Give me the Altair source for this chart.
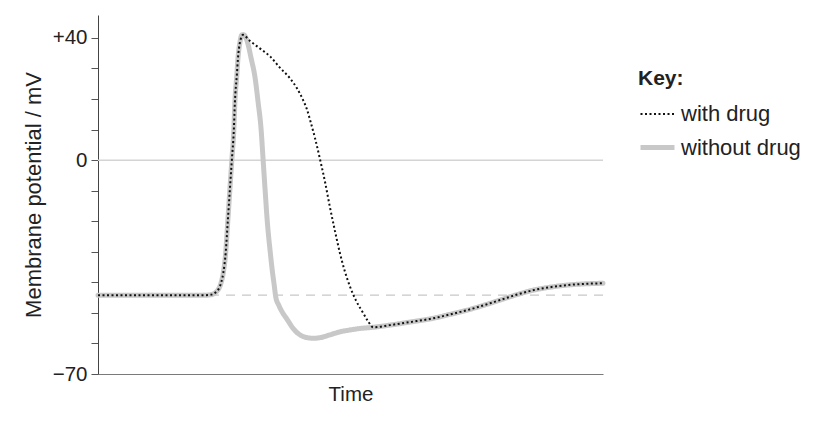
import altair as alt
import pandas as pd

# ---- data ----
# time in arbitrary units (0..100), membrane potential in mV
t_without = [0, 21.2, 22.2, 23.6, 24.4, 24.8, 25.3, 25.7, 26.1, 26.5, 26.9, 27.1, 27.5, 27.7,
             28.1, 28.5, 28.9, 29.3, 29.7, 30.3, 31.1, 31.7, 32.3, 32.7, 33.1, 33.5, 34.1,
             34.5, 34.9, 35.2, 35.8, 36.4, 37.4, 38.6, 40.0, 41.4, 42.6, 44.0, 45.9, 47.9,
             49.9, 51.9, 54.5, 57.8, 61.8, 66.3, 69.7, 73.1, 76.6, 79.6, 83.0, 86.1, 89.5,
             92.9, 96.4, 100]
v_without = [-44.2, -44.2, -44.1, -42.8, -40, -37, -30, -20, -10, 0, 10, 18.7, 28, 33,
             38.5, 41, 41, 40, 38, 33.5, 27, 19, 10, 0, -10, -19.6, -30,
             -36, -41, -44.8, -47.5, -49.5, -52, -55, -57.2, -58.1, -58.3, -58.1, -57.2, -56.2,
             -55.6, -55.1, -54.7, -54, -53, -51.8, -50.5, -49.1, -47.4, -45.8, -44, -42.6, -41.6,
             -40.9, -40.5, -40.3]

t_with = [0, 21.2, 22.2, 23.6, 24.4, 24.8, 25.3, 25.7, 26.1, 26.5, 26.9, 27.1, 27.5, 27.7,
          28.1, 28.7, 30.1, 32.1, 34.1, 36.0, 38.0, 39.4, 40.6, 41.4, 42.0, 43.0, 44.0,
          45.0, 45.9, 46.9, 47.9, 48.9, 49.9, 51.1, 52.5, 53.5, 54.5, 57.8, 61.8, 66.3,
          69.7, 73.1, 76.6, 79.6, 83.0, 86.1, 89.5, 92.9, 96.4, 100]
v_with = [-44.2, -44.2, -44.1, -42.8, -40, -37, -30, -20, -10, 0, 10, 18.7, 28, 33,
          38.5, 41, 39, 36.5, 33.9, 30.3, 26.8, 23.5, 19.7, 16.5, 13.1, 7, 0,
          -7.5, -15.2, -23, -30.4, -36.5, -41.4, -46, -50, -52.8, -54.7, -54, -53, -51.8,
          -50.5, -49.1, -47.4, -45.8, -44, -42.6, -41.6, -40.9, -40.5, -40.3]

series_names = ["with drug", "without drug"]
rest_mv = -44.2
y_ticks = [-70, -60, -50, -40, -30, -20, -10, 0, 10, 20, 30, 40]

df = pd.concat([
    pd.DataFrame({"t": t_with, "v": v_with, "series": series_names[0]}),
    pd.DataFrame({"t": t_without, "v": v_without, "series": series_names[1]}),
])

FONT = "Liberation Sans"
TXT = "#222222"

x_scale = alt.Scale(domain=[0, 100], nice=False)
x_axis = alt.Axis(title="Time", labels=False, ticks=False, grid=False,
                  domainColor="#7a7a7a", domainWidth=1.2,
                  titleFontSize=20.5, titleFont=FONT, titleColor=TXT,
                  titleFontWeight="normal", titlePadding=10)
y_scale = alt.Scale(domain=[-70, 47.5], nice=False, zero=False)
y_axis = alt.Axis(title="Membrane potential / mV", values=y_ticks, tickCount=24,
                  labelExpr="datum.value == 40 ? '+40' : datum.value == 0 ? '0' : datum.value == -70 ? '\u221270' : ''",
                  labelOverlap=False, labelBound=False, labelFlush=False,
                  grid=False, tickSize=7, tickColor="#555555", domainColor="#444444",
                  labelFontSize=20.5, labelFont=FONT, labelColor=TXT, labelPadding=4,
                  titleFontSize=22, titleFont=FONT, titleColor=TXT,
                  titleFontWeight="normal", titlePadding=7)

color_enc = alt.Color("series:N",
                      scale=alt.Scale(domain=series_names, range=["#111111", "#c8c8c8"]),
                      legend=alt.Legend(title="Key:", orient="none", legendX=540, legendY=53,
                                        symbolType="stroke", symbolSize=1156, rowPadding=3,
                                        labelOffset=4, padding=0, titlePadding=7,
                                        titleFontSize=21, titleFont=FONT, titleColor=TXT,
                                        titleFontWeight="bold",
                                        labelFontSize=22, labelFont=FONT, labelColor=TXT))
dash_enc = alt.StrokeDash("series:N",
                          scale=alt.Scale(domain=series_names, range=[[2, 2.5], [1, 0]]),
                          legend=alt.Legend(title="Key:"))
width_enc = alt.StrokeWidth("series:N",
                            scale=alt.Scale(domain=series_names, range=[2, 5]),
                            legend=alt.Legend(title="Key:"))

zero_rule = alt.Chart(pd.DataFrame({"v": [0]})).mark_rule(
    color="#d4d4d4", strokeWidth=1.5).encode(y=alt.Y("v:Q", scale=y_scale, axis=y_axis))
rest_rule = alt.Chart(pd.DataFrame({"v": [rest_mv]})).mark_rule(
    color="#c8c8c8", strokeWidth=1.2, strokeDash=[9, 7]).encode(y=alt.Y("v:Q", scale=y_scale, axis=y_axis))

base = alt.Chart(df).encode(x=alt.X("t:Q", scale=x_scale, axis=x_axis),
                            y=alt.Y("v:Q", scale=y_scale, axis=y_axis),
                            color=color_enc, strokeDash=dash_enc, strokeWidth=width_enc)
gray = base.transform_filter(alt.datum.series == series_names[1]).mark_line(
    interpolate="monotone", strokeCap="round", strokeJoin="round")
dotted = base.transform_filter(alt.datum.series == series_names[0]).mark_line(
    interpolate="monotone")

chart = alt.layer(zero_rule, rest_rule, gray, dotted).properties(
    width=505, height=359,
    background="white",
    autosize=alt.AutoSizeParams(type="none"),
    padding={"left": 98, "top": 15, "right": 215, "bottom": 52},
).configure_view(stroke="transparent", strokeWidth=0)

chart.save("out.html", embed_options={"renderer": "svg", "actions": False})
